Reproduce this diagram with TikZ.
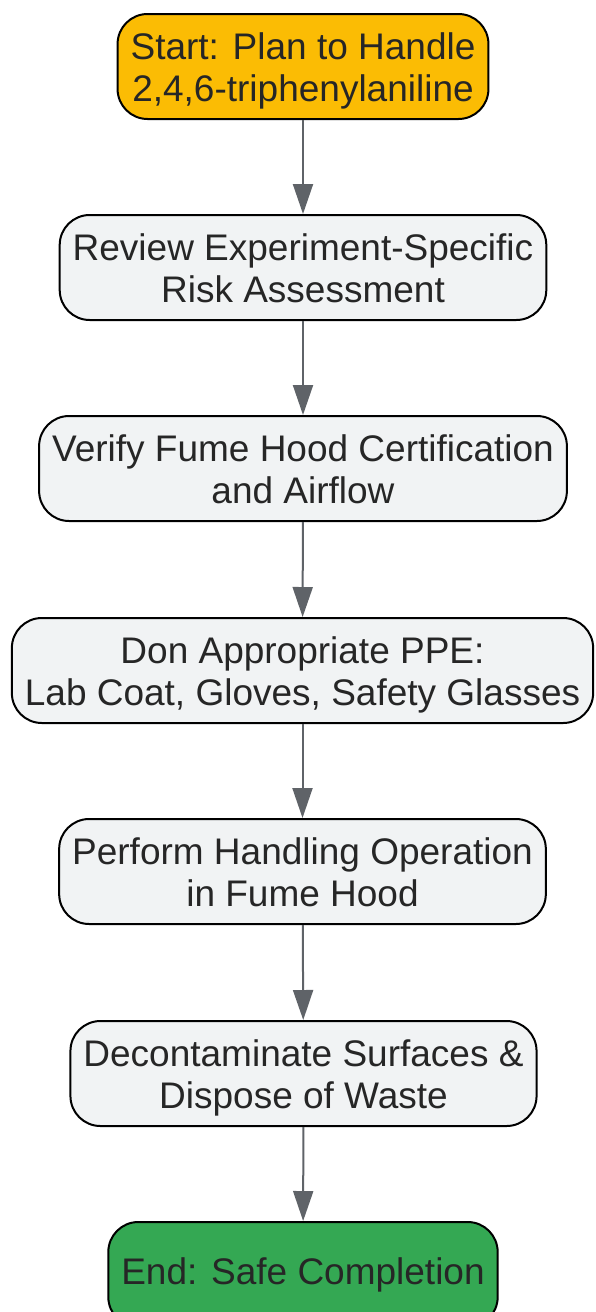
\documentclass[tikz,border=0pt]{standalone}
\usepackage{fontspec}
\setmainfont{Liberation Sans}
\usetikzlibrary{arrows.meta}

\definecolor{startyellow}{HTML}{FBBC04}
\definecolor{endgreen}{HTML}{34A853}
\definecolor{stepgray}{HTML}{F1F3F4}
\definecolor{linegray}{HTML}{5F6368}
\definecolor{textdark}{HTML}{262626}

\tikzset{
    flowbox/.style={draw=black, line width=2pt, rounded corners=30pt, fill=stepgray,
        text=textdark, align=center, minimum height=105pt, inner xsep=13pt,
        text height=70pt, text depth=0pt,
        font=\fontsize{37}{42}\selectfont},
    startbox/.style={flowbox, fill=startyellow},
    endbox/.style={flowbox, fill=endgreen, text height=, text depth=},
    flowarrow/.style={draw=linegray, line width=2pt, -{Triangle[length=30pt,width=20pt]}}
}

\begin{document}
\begin{tikzpicture}[x=1pt, y=1pt]

    % Page frame
    \useasboundingbox (0,0) rectangle (596,-1312);

    % Steps of the procedure
    \node[startbox] (start) at (303,-66.5) {Start: Plan to Handle\\2,4,6-triphenylaniline};
    \node[flowbox] (review) at (303,-267.5) {Review Experiment-Specific\\Risk Assessment};
    \node[flowbox] (verify) at (303,-468.5) {Verify Fume Hood Certification\\and Airflow};
    \node[flowbox] (ppe) at (302.5,-670.5) {Don Appropriate PPE:\\Lab Coat, Gloves, Safety Glasses};
    \node[flowbox] (perform) at (302.5,-871.5) {Perform Handling Operation\\in Fume Hood};
    \node[flowbox] (decon) at (303.5,-1073.5) {Decontaminate Surfaces \&\\Dispose of Waste};
    \node[endbox] (finish) at (303,-1274.5) {End: Safe Completion};

    % Connectors
    \draw[flowarrow] (start) -- (review);
    \draw[flowarrow] (review) -- (verify);
    \draw[flowarrow] (verify) -- (ppe);
    \draw[flowarrow] (ppe) -- (perform);
    \draw[flowarrow] (perform) -- (decon);
    \draw[flowarrow] (decon) -- (finish);

\end{tikzpicture}
\end{document}
